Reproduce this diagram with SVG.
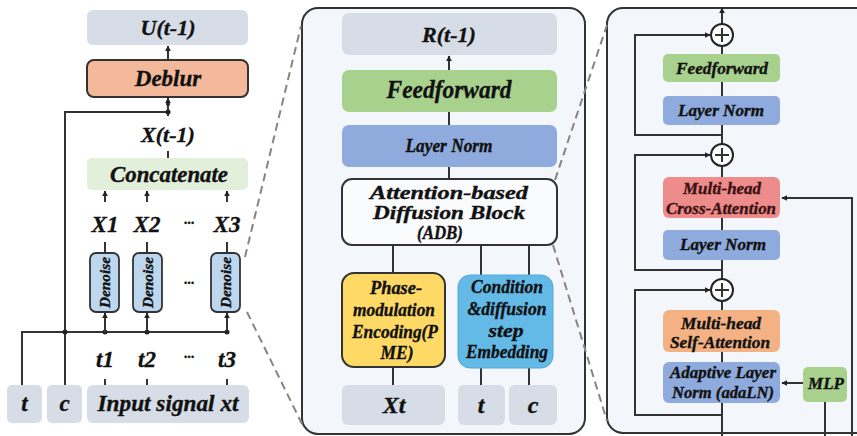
<svg xmlns="http://www.w3.org/2000/svg" width="857" height="436" viewBox="0 0 857 436" font-family="Liberation Serif, serif">
<style>
  text { font-family: "Liberation Serif", "Times New Roman", serif; font-weight: bold; font-style: italic; fill: #111; stroke: #111; stroke-width: 0.35; text-anchor: middle; }
  .ln { stroke: #333; stroke-width: 2; fill: none; }
  .dash { stroke: #8c8282; stroke-width: 2; stroke-dasharray: 8 5; fill: none; }
  .io { fill: #d6dde7; }
  .panel { fill: #f3f6fa; stroke: #333; stroke-width: 2; }
  .ff { fill: #a9d18e; }
  .lnorm { fill: #8faadc; }
  .den { fill: #bdd7ee; stroke: #333; stroke-width: 1.8; }
  .dot { fill: #222; }
  .circ { fill: #fff; stroke: #222; stroke-width: 2; }
  .red { fill: #3a1212; stroke: #3a1212; }
</style>
<defs>
  <marker id="arr" viewBox="0 0 10 10" refX="9" refY="5" markerWidth="6" markerHeight="6" markerUnits="userSpaceOnUse" orient="auto">
    <path d="M0,0 L10,5 L0,10 z" fill="#222"/>
  </marker>
</defs>
<rect width="857" height="436" fill="#ffffff"/>

<!-- panels -->
<rect id="panel-mid" class="panel" x="302" y="8" width="283" height="426" rx="16"/>
<rect id="panel-right" class="panel" x="607" y="8" width="270" height="425" rx="16"/>

<!-- connectors -->
<g id="connectors">
  <line class="dash" x1="245" y1="257" x2="301" y2="26"/>
  <line class="dash" x1="247" y1="312" x2="302" y2="424"/>
  <line class="dash" x1="555" y1="180" x2="607" y2="25"/>
  <line class="dash" x1="553" y1="245" x2="607" y2="421"/>

  <!-- left panel -->
  <line class="ln" x1="168" y1="60" x2="168" y2="46" marker-end="url(#arr)"/>
  <line class="ln" x1="168" y1="116" x2="168" y2="98" marker-end="url(#arr)"/>
  <line class="ln" x1="168" y1="158" x2="168" y2="151"/>
  <polyline class="ln" points="65,385 65,112 168,112"/>
  <circle class="dot" cx="168" cy="112" r="2.5"/>
  <circle class="dot" cx="168" cy="104" r="2"/>
  <line class="ln" x1="105" y1="202" x2="105" y2="191" marker-end="url(#arr)"/>
  <line class="ln" x1="147" y1="202" x2="147" y2="191" marker-end="url(#arr)"/>
  <line class="ln" x1="227" y1="202" x2="227" y2="191" marker-end="url(#arr)"/>
  <line class="ln" x1="105" y1="242" x2="105" y2="253"/>
  <line class="ln" x1="147" y1="242" x2="147" y2="253"/>
  <line class="ln" x1="227" y1="242" x2="227" y2="253"/>
  <polyline class="ln" points="22,385 22,332 227,332"/>
  <circle class="dot" cx="65" cy="332" r="2.5"/>
  <circle class="dot" cx="105" cy="332" r="2.5"/>
  <circle class="dot" cx="147" cy="332" r="2.5"/>
  <circle class="dot" cx="227" cy="332" r="2.5"/>
  <line class="ln" x1="105" y1="332" x2="105" y2="313" marker-end="url(#arr)"/>
  <line class="ln" x1="147" y1="332" x2="147" y2="313" marker-end="url(#arr)"/>
  <line class="ln" x1="227" y1="332" x2="227" y2="313" marker-end="url(#arr)"/>
  <line class="ln" x1="105" y1="379" x2="105" y2="385"/>
  <line class="ln" x1="147" y1="379" x2="147" y2="385"/>
  <line class="ln" x1="227" y1="379" x2="227" y2="385"/>

  <!-- middle panel -->
  <line class="ln" x1="449" y1="70" x2="449" y2="56" marker-end="url(#arr)"/>
  <line class="ln" x1="449" y1="112" x2="449" y2="125"/>
  <line class="ln" x1="449" y1="167" x2="449" y2="179"/>
  <line class="ln" x1="393" y1="245" x2="393" y2="273"/>
  <line class="ln" x1="481" y1="245" x2="481" y2="275"/>
  <line class="ln" x1="529" y1="245" x2="529" y2="275"/>
  <line class="ln" x1="393" y1="367" x2="393" y2="385"/>
  <line class="ln" x1="481" y1="368" x2="481" y2="385"/>
  <line class="ln" x1="529" y1="368" x2="529" y2="385"/>

  <!-- right panel -->
  <line class="ln" x1="722" y1="24" x2="722" y2="8" marker-end="url(#arr)"/>
  <line class="ln" x1="722" y1="46" x2="722" y2="54"/>
  <line class="ln" x1="722" y1="82" x2="722" y2="96"/>
  <line class="ln" x1="722" y1="125" x2="722" y2="144"/>
  <polyline class="ln" points="722,135 635,135 635,35 710,35" marker-end="url(#arr)"/>
  <line class="ln" x1="722" y1="166" x2="722" y2="177"/>
  <line class="ln" x1="722" y1="218" x2="722" y2="230"/>
  <line class="ln" x1="722" y1="260" x2="722" y2="279"/>
  <polyline class="ln" points="722,270 635,270 635,155 710,155" marker-end="url(#arr)"/>
  <line class="ln" x1="722" y1="301" x2="722" y2="310"/>
  <line class="ln" x1="722" y1="352" x2="722" y2="362"/>
  <line class="ln" x1="722" y1="403" x2="722" y2="436"/>
  <polyline class="ln" points="722,415 635,415 635,290 710,290" marker-end="url(#arr)"/>
  <polyline class="ln" points="852,436 852,198 782,198" marker-end="url(#arr)"/>
  <line class="ln" x1="803" y1="383" x2="782" y2="383" marker-end="url(#arr)"/>
  <line class="ln" x1="825" y1="402" x2="825" y2="436"/>
</g>

<!-- left panel nodes -->
<g id="U">
  <rect class="io" x="87" y="10" width="161" height="35" rx="6"/>
  <text x="168" y="35" font-size="22">U(t-1)</text>
</g>
<g id="deblur">
  <rect x="87" y="60" width="161" height="37" rx="7" fill="#f4b99b" stroke="#333" stroke-width="2"/>
  <text x="168" y="86" font-size="23">Deblur</text>
</g>
<g id="xt1">
  <text x="168" y="142" font-size="22">X(t-1)</text>
</g>
<g id="concat">
  <rect x="87" y="158" width="161" height="32" rx="5" fill="#e2efda"/>
  <text x="169" y="182" font-size="23" textLength="118" lengthAdjust="spacingAndGlyphs">Concatenate</text>
</g>
<g id="xlabels">
  <text x="105" y="232" font-size="23">X1</text>
  <text x="147" y="232" font-size="23">X2</text>
  <text x="189" y="228" font-size="14">···</text>
  <text x="227" y="232" font-size="23">X3</text>
</g>
<g id="denoise1">
  <rect class="den" x="90" y="253" width="29" height="59" rx="6"/>
  <text transform="translate(104.5,282.5) rotate(-90)" y="5.5" font-size="15" textLength="51" lengthAdjust="spacingAndGlyphs">Denoise</text>
</g>
<g id="denoise2">
  <rect class="den" x="133" y="253" width="29" height="59" rx="6"/>
  <text transform="translate(147.5,282.5) rotate(-90)" y="5.5" font-size="15" textLength="51" lengthAdjust="spacingAndGlyphs">Denoise</text>
</g>
<g id="denoise-dots">
  <text x="189" y="288" font-size="14">···</text>
</g>
<g id="denoise3">
  <rect class="den" x="211" y="253" width="29" height="59" rx="6"/>
  <text transform="translate(225.5,282.5) rotate(-90)" y="5.5" font-size="15" textLength="51" lengthAdjust="spacingAndGlyphs">Denoise</text>
</g>
<g id="tlabels">
  <text x="105" y="367" font-size="23">t1</text>
  <text x="147" y="367" font-size="23">t2</text>
  <text x="189" y="362" font-size="14">···</text>
  <text x="227" y="367" font-size="23">t3</text>
</g>
<g id="t-in">
  <rect class="io" x="7" y="385" width="35" height="38" rx="5"/>
  <text x="24.5" y="411" font-size="23">t</text>
</g>
<g id="c-in">
  <rect class="io" x="47" y="385" width="35" height="38" rx="5"/>
  <text x="64.5" y="411" font-size="23">c</text>
</g>
<g id="input-signal">
  <rect class="io" x="87" y="385" width="162" height="38" rx="6"/>
  <text x="168" y="411" font-size="23" textLength="141" lengthAdjust="spacingAndGlyphs">Input signal xt</text>
</g>

<!-- middle panel nodes -->
<g id="R">
  <rect class="io" x="342" y="13" width="215" height="42" rx="7"/>
  <text x="449" y="42" font-size="22">R(t-1)</text>
</g>
<g id="ff-mid">
  <rect class="ff" x="342" y="70" width="215" height="42" rx="7"/>
  <text x="449" y="98" font-size="25" textLength="125" lengthAdjust="spacingAndGlyphs">Feedforward</text>
</g>
<g id="ln-mid">
  <rect class="lnorm" x="342" y="125" width="215" height="42" rx="7"/>
  <text x="449" y="152" font-size="18" textLength="87" lengthAdjust="spacingAndGlyphs">Layer Norm</text>
</g>
<g id="adb">
  <rect x="342" y="179" width="215" height="66" rx="10" fill="#fafbfd" stroke="#333" stroke-width="2"/>
  <text x="449" y="199" font-size="18" textLength="158" lengthAdjust="spacingAndGlyphs">Attention-based</text>
  <text x="449" y="219" font-size="18" textLength="152" lengthAdjust="spacingAndGlyphs">Diffusion Block</text>
  <text x="440" y="239" font-size="18" textLength="46" lengthAdjust="spacingAndGlyphs">(ADB)</text>
</g>
<g id="pme">
  <rect x="342" y="273" width="103" height="94" rx="12" fill="#ffd966" stroke="#333" stroke-width="2"/>
  <text x="396" y="294" font-size="18" textLength="52" lengthAdjust="spacingAndGlyphs">Phase-</text>
  <text x="394" y="316" font-size="18" textLength="82" lengthAdjust="spacingAndGlyphs">modulation</text>
  <text x="395" y="338" font-size="18" textLength="86" lengthAdjust="spacingAndGlyphs">Encoding(P</text>
  <text x="397" y="359" font-size="18" textLength="33" lengthAdjust="spacingAndGlyphs">ME)</text>
</g>
<g id="cond">
  <rect x="458" y="275" width="95" height="93" rx="12" fill="#63bae7" stroke="#58a8d6" stroke-width="1"/>
  <text x="507" y="293" font-size="18" textLength="72" lengthAdjust="spacingAndGlyphs">Condition</text>
  <text x="507" y="315" font-size="18" textLength="79" lengthAdjust="spacingAndGlyphs">&amp;diffusion</text>
  <text x="506" y="337" font-size="18" textLength="35" lengthAdjust="spacingAndGlyphs">step</text>
  <text x="507" y="358" font-size="18" textLength="82" lengthAdjust="spacingAndGlyphs">Embedding</text>
</g>
<g id="xt-mid">
  <rect class="io" x="342" y="385" width="103" height="40" rx="6"/>
  <text x="394" y="413" font-size="24">Xt</text>
</g>
<g id="t-mid">
  <rect class="io" x="458" y="385" width="47" height="40" rx="6"/>
  <text x="481" y="413" font-size="24">t</text>
</g>
<g id="c-mid">
  <rect class="io" x="509" y="385" width="48" height="40" rx="6"/>
  <text x="533" y="413" font-size="24">c</text>
</g>

<!-- right panel nodes -->
<g id="add1"><circle class="circ" cx="722" cy="35" r="11"/><path class="ln" d="M715,35 H729 M722,28 V42"/></g>
<g id="ff-right">
  <rect class="ff" x="663" y="54" width="117" height="28" rx="5"/>
  <text x="722" y="74" font-size="16" textLength="92" lengthAdjust="spacingAndGlyphs">Feedforward</text>
</g>
<g id="ln-right1">
  <rect class="lnorm" x="663" y="96" width="117" height="29" rx="5"/>
  <text x="721" y="116" font-size="16" textLength="86" lengthAdjust="spacingAndGlyphs">Layer Norm</text>
</g>
<g id="add2"><circle class="circ" cx="722" cy="155" r="11"/><path class="ln" d="M715,155 H729 M722,148 V162"/></g>
<g id="cross-attn">
  <rect x="663" y="177" width="117" height="41" rx="6" fill="#ee8b8b"/>
  <text class="red" x="722" y="194" font-size="16" textLength="78" lengthAdjust="spacingAndGlyphs">Multi-head</text>
  <text class="red" x="721" y="214" font-size="16" textLength="110" lengthAdjust="spacingAndGlyphs">Cross-Attention</text>
</g>
<g id="ln-right2">
  <rect class="lnorm" x="663" y="230" width="117" height="30" rx="5"/>
  <text x="723" y="250" font-size="16" textLength="86" lengthAdjust="spacingAndGlyphs">Layer Norm</text>
</g>
<g id="add3"><circle class="circ" cx="722" cy="290" r="11"/><path class="ln" d="M715,290 H729 M722,283 V297"/></g>
<g id="self-attn">
  <rect x="663" y="310" width="117" height="42" rx="6" fill="#f4b183"/>
  <text x="721" y="329" font-size="16" textLength="80" lengthAdjust="spacingAndGlyphs">Multi-head</text>
  <text x="720" y="348" font-size="16" textLength="100" lengthAdjust="spacingAndGlyphs">Self-Attention</text>
</g>
<g id="adaln">
  <rect class="lnorm" x="663" y="362" width="117" height="41" rx="6"/>
  <text x="723" y="378" font-size="16" textLength="106" lengthAdjust="spacingAndGlyphs">Adaptive Layer</text>
  <text x="723" y="398" font-size="16" textLength="102" lengthAdjust="spacingAndGlyphs">Norm (adaLN)</text>
</g>
<g id="mlp">
  <rect class="ff" x="803" y="367" width="44" height="35" rx="5"/>
  <text x="826" y="389" font-size="17">MLP</text>
</g>
</svg>
